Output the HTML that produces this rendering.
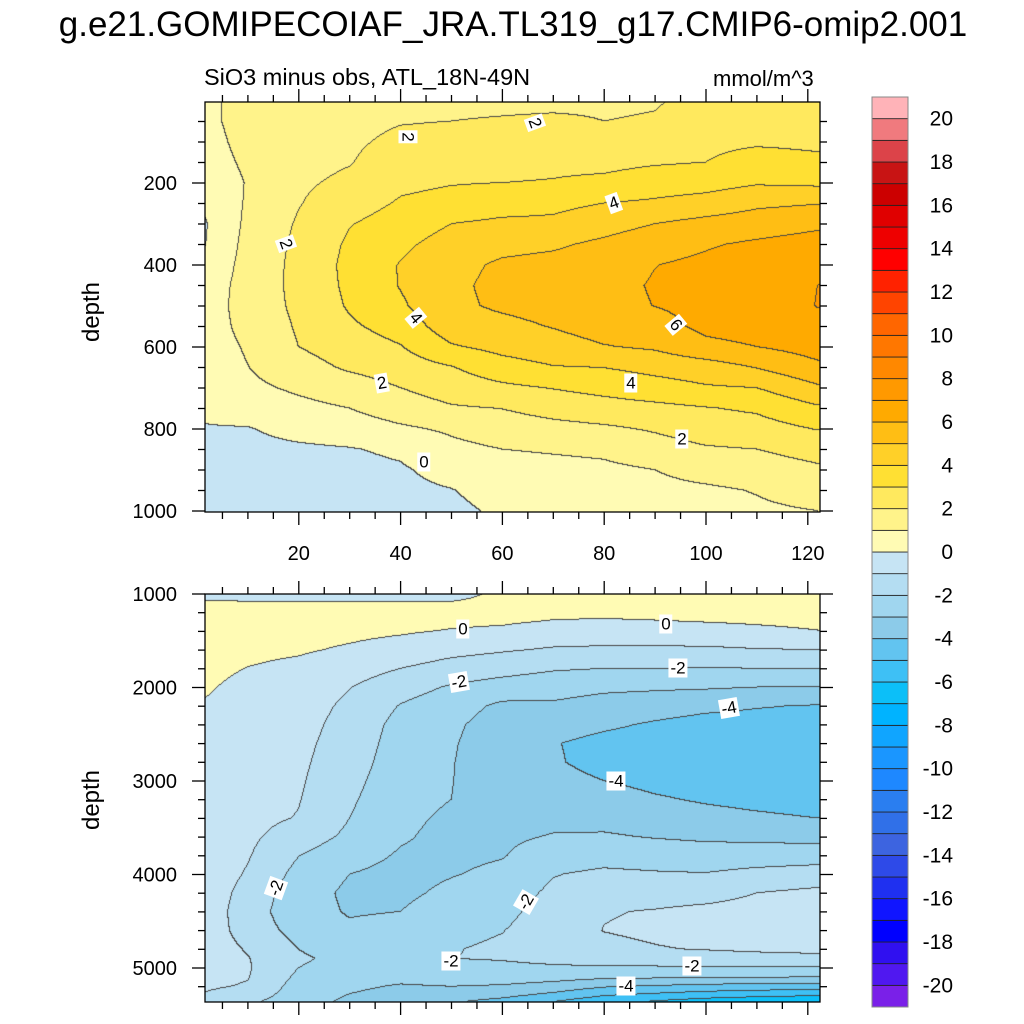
<!DOCTYPE html>
<html><head><meta charset="utf-8">
<style>
html,body{margin:0;padding:0;background:#fff;}
body{width:1024px;height:1024px;position:relative;overflow:hidden;font-family:"Liberation Sans",Arial,sans-serif;color:#000;}
.abs{position:absolute;}
canvas{position:absolute;}
.lbl{position:absolute;background:#fff;font-size:17px;line-height:17px;padding:1px 2px;transform:translate(-50%,-50%);}
</style></head>
<body>
<div class="abs" style="left:0;width:1026px;top:5px;text-align:center;font-size:35px;white-space:nowrap;">g.e21.GOMIPECOIAF_JRA.TL319_g17.CMIP6-omip2.001</div>
<div class="abs" style="left:204px;top:64px;font-size:23.5px;white-space:nowrap;">SiO3 minus obs, ATL_18N-49N</div>
<div class="abs" style="left:713px;top:66px;font-size:22px;white-space:nowrap;">mmol/m^3</div>
<div class="abs" style="left:92px;top:312px;font-size:24px;transform:translate(-50%,-50%) rotate(-90deg);">depth</div>
<div class="abs" style="left:92px;top:800px;font-size:24px;transform:translate(-50%,-50%) rotate(-90deg);">depth</div>
<canvas id="topC" width="615" height="410" style="left:205px;top:102px;"></canvas>
<canvas id="botC" width="615" height="408" style="left:205px;top:594px;"></canvas>
<svg id="axes" class="abs" width="1024" height="1024" style="left:0;top:0;"></svg>
<div id="labels"></div>
<script>
// ---------- data ----------
const xGrid = [1.5,10,20,30,40,50,60,70,80,90,100,110,122];
const topDepth = [0,50,100,150,200,250,300,350,400,450,500,550,600,650,700,750,800,850,900,950,1000];
const topCol0 = [0.8,0.8,0.7,0.6,0.4,0.15,-0.1,-0.05,0.2,0.4,0.5,0.5,0.5,0.45,0.35,0.15,-0.05,-0.3,-0.4,-0.5,-0.5];
const topCol1 = [1.3,1.3,1.25,1.15,1.05,1.1,1.2,1.3,1.35,1.4,1.4,1.3,1.1,0.98,0.8,0.45,-0.05,-0.25,-0.4,-0.5,-0.55];
const topCol2 = [1.5,1.55,1.6,1.7,1.85,1.95,2.1,2.2,2.25,2.25,2.2,2.1,2.0,1.6,1.15,0.75,0.3,-0.15,-0.35,-0.45,-0.5];
const topCol3 = [1.7,1.75,1.85,1.95,2.2,2.55,2.95,3.15,3.25,3.2,3.1,2.85,2.5,2.15,1.5,1.0,0.5,-0.05,-0.25,-0.4,-0.45];
const topCol4 = [1.8,1.95,2.2,2.5,2.8,3.1,3.45,3.8,4.05,4.05,3.85,3.4,2.95,2.5,2.0,1.5,0.85,0.15,-0.1,-0.2,-0.35];
const topCol5 = [1.85,2.0,2.3,2.65,2.95,3.3,4.0,4.4,4.7,4.8,4.8,4.55,3.9,2.95,2.45,1.9,1.15,0.75,0.3,-0.03,-0.2];
const topCol6 = [1.85,2.05,2.4,2.7,3.0,3.55,4.2,4.7,5.15,5.25,5.15,4.75,4.3,3.6,2.8,2.02,1.5,1.0,0.6,0.35,0.15];
const topCol7 = [1.85,2.1,2.5,2.8,3.05,3.75,4.2,4.85,5.3,5.4,5.35,5.05,4.6,3.95,3.05,2.35,1.7,1.1,0.7,0.45,0.3];
const topCol8 = [1.9,2.0,2.4,2.75,3.2,4.0,4.6,5.2,5.55,5.7,5.65,5.4,4.95,4.02,3.3,2.6,1.85,1.2,0.8,0.55,0.4];
const topCol9 = [1.95,2.05,2.5,2.9,3.5,4.15,5.0,5.6,5.98,6.08,6.02,5.6,5.15,4.3,3.6,2.75,2.1,1.6,1.0,0.75,0.55];
const topCol10 = [2.15,2.4,2.75,3.0,3.6,4.4,5.3,5.9,6.2,6.35,6.3,6.25,5.75,4.55,3.9,2.95,2.45,1.9,1.35,0.85,0.6];
const topCol11 = [2.2,2.5,2.85,3.45,3.9,4.8,5.5,6.15,6.5,6.65,6.6,6.4,6.0,5.05,4.0,3.15,2.6,2.0,1.55,1.05,0.85];
const topCol12 = [2.3,2.55,2.8,3.2,3.8,4.95,5.8,6.4,6.8,7.0,7.02,6.85,6.4,5.8,4.85,3.85,3.05,2.35,1.85,1.4,1.0];

const botDepth = [1000,1100,1200,1300,1400,1600,1800,2000,2200,2400,2600,2800,3000,3200,3400,3600,3800,4000,4200,4400,4600,4800,4900,5000,5100,5200,5300,5363];
const botCol0 = [-0.5,0.2,0.5,0.5,0.45,0.35,0.2,0.08,-0.05,-0.15,-0.2,-0.25,-0.25,-0.3,-0.3,-0.3,-0.3,-0.3,-0.3,-0.3,-0.3,-0.3,-0.35,-0.4,-0.6,-0.85,-1.1,-1.3];
const botCol1 = [-0.5,0.1,0.4,0.4,0.35,0.2,-0.02,-0.2,-0.3,-0.4,-0.45,-0.5,-0.55,-0.6,-0.7,-0.8,-0.92,-1.1,-1.4,-1.6,-1.5,-1.1,-0.95,-0.9,-0.95,-1.1,-1.5,-1.8];
const botCol2 = [-0.5,0.1,0.4,0.35,0.25,0.1,-0.2,-0.4,-0.55,-0.65,-0.75,-0.82,-0.88,-0.95,-1.05,-1.5,-1.98,-2.3,-2.5,-2.5,-2.3,-2.0,-1.9,-2.0,-2.2,-2.4,-2.5,-2.6];
const botCol3 = [-0.5,0.1,0.4,0.3,0.2,-0.1,-0.55,-0.97,-1.2,-1.35,-1.45,-1.55,-1.7,-1.85,-2.0,-2.2,-2.6,-3.0,-3.2,-3.1,-2.8,-2.4,-2.2,-2.3,-2.5,-2.8,-3.05,-3.2];
const botCol4 = [-0.5,0.1,0.35,0.25,0.1,-0.35,-1.0,-1.6,-2.05,-2.3,-2.4,-2.5,-2.6,-2.7,-2.8,-2.9,-3.1,-3.3,-3.2,-3.0,-2.6,-2.1,-2.0,-2.3,-2.7,-3.1,-3.4,-3.7];
const botCol5 = [-0.5,0.1,0.3,0.15,-0.05,-0.7,-1.4,-2.1,-2.55,-2.8,-2.9,-2.95,-2.97,-3.0,-3.15,-3.25,-3.2,-3.05,-2.8,-2.5,-2.25,-2.05,-2.0,-2.2,-2.5,-3.0,-3.5,-3.9];
const botCol6 = [0.3,0.4,0.25,0.1,-0.15,-0.9,-1.65,-2.4,-3.2,-3.5,-3.6,-3.6,-3.55,-3.45,-3.3,-3.15,-3.05,-2.8,-2.5,-2.25,-2.03,-1.85,-1.95,-2.15,-2.5,-3.1,-3.8,-4.3];
const botCol7 = [0.7,0.45,0.2,-0.05,-0.4,-1.1,-1.9,-2.6,-3.15,-3.6,-3.95,-3.9,-3.7,-3.45,-3.2,-2.95,-2.55,-2.05,-1.8,-1.6,-1.5,-1.6,-1.8,-2.1,-2.6,-3.4,-4.3,-5.0];
const botCol8 = [0.7,0.5,0.2,-0.1,-0.45,-1.15,-2.0,-2.8,-3.4,-3.85,-4.25,-4.3,-4.0,-3.6,-3.3,-2.9,-2.4,-1.8,-1.4,-1.05,-0.98,-1.2,-1.6,-2.1,-2.8,-3.9,-5.0,-5.7];
const botCol9 = [0.65,0.5,0.25,-0.05,-0.4,-1.15,-2.0,-2.85,-3.6,-4.1,-4.4,-4.45,-4.25,-3.9,-3.5,-3.05,-2.5,-1.9,-1.35,-0.95,-0.85,-1.05,-1.5,-2.1,-2.85,-4.1,-5.3,-6.1];
const botCol10 = [0.6,0.5,0.3,0.02,-0.35,-1.15,-2.05,-2.9,-3.8,-4.3,-4.5,-4.5,-4.4,-4.1,-3.7,-3.15,-2.6,-1.95,-1.3,-0.8,-0.7,-0.95,-1.4,-2.05,-2.9,-4.3,-5.6,-6.5];
const botCol11 = [0.55,0.5,0.35,0.1,-0.2,-1.05,-2.0,-3.0,-3.95,-4.3,-4.5,-4.55,-4.5,-4.25,-3.85,-3.2,-2.55,-1.7,-1.0,-0.7,-0.65,-0.85,-1.3,-2.05,-2.95,-4.4,-5.8,-6.8];
const botCol12 = [0.5,0.5,0.4,0.2,-0.02,-1.0,-2.0,-3.05,-4.05,-4.3,-4.5,-4.6,-4.6,-4.4,-4.0,-3.3,-2.5,-1.5,-0.8,-0.6,-0.6,-0.8,-1.2,-2.1,-3.0,-4.5,-6.0,-7.0];

const topValues = [topCol0,topCol1,topCol2,topCol3,topCol4,topCol5,topCol6,topCol7,topCol8,topCol9,topCol10,topCol11,topCol12];
const botValues = [botCol0,botCol1,botCol2,botCol3,botCol4,botCol5,botCol6,botCol7,botCol8,botCol9,botCol10,botCol11,botCol12];

const xTicks = [20,40,60,80,100,120];
const topYTicks = [200,400,600,800,1000];
const botYTicks = [1000,2000,3000,4000,5000];
const cbLabels = [20,18,16,14,12,10,8,6,4,2,0,-2,-4,-6,-8,-10,-12,-14,-16,-18,-20];
const palette = ['#7a20e8','#5018f0','#3010f0','#0000ff','#1015ff','#1f30f0','#2e4ae8','#3d64e0','#3070e8','#2a7ef0','#1e88ff','#1a96ff','#10a5ff','#00b3ff','#0cbff8','#3ec0f5','#62c4f0','#8ccbe9','#a0d6ef','#b4ddf2','#c6e4f4','#fffbb4','#fff38a','#ffe95e','#ffe033','#ffd028','#ffbe14','#ffaa00','#ff9900','#ff8800','#ff7700','#ff6600','#ff4400','#ff2200','#ff0000','#ee0000','#e00000','#cc0000','#c81414','#dc4349','#f07a7e','#ffb3b8'];

const topLabels = [["2",408,137,90],["2",535,123,70],["2",286,244,70],["4",614,203,-20],["4",416,318,50],["6",676,325,50],["2",382,383,-10],["4",631,383,0],["2",682,439,0],["0",424,462,0]];
const botLabels = [["0",463,629,0],["0",666,624,0],["-2",459,682,-10],["-2",678,668,0],["-4",729,708,-10],["-4",616,781,0],["-2",276,888,-70],["-2",526,902,-60],["-2",451,961,0],["-2",692,966,0],["-4",626,986,0]];

// ---------- geometry ----------
const X0=197, XS=5.09;
const px = x => X0 + XS*x;
const PL=205, PR=820;
const topY = d => 101 + d*0.41;
const botY = d => 594 + (d-1000)*0.0935;

function rgb(h){return [parseInt(h.substr(1,2),16),parseInt(h.substr(3,2),16),parseInt(h.substr(5,2),16)];}
const palRGB = palette.map(rgb);
function band(v){let k=Math.floor(v)+21; return Math.max(0,Math.min(41,k));}
function locate(arr,v){let i=0; while(i<arr.length-2 && v>arr[i+1]) i++; let t=(v-arr[i])/(arr[i+1]-arr[i]); return [i,Math.max(0,Math.min(1,t))];}
function sample(vals,depths,x,d){
  const [i,tx]=locate(xGrid,x), [j,ty]=locate(depths,d);
  const a=vals[i][j],b=vals[i+1][j],c=vals[i][j+1],e=vals[i+1][j+1];
  return (a*(1-tx)+b*tx)*(1-ty)+(c*(1-tx)+e*tx)*ty;
}
function drawPanel(id,vals,depths,top,yinv){
  const cv=document.getElementById(id), ctx=cv.getContext('2d');
  const W=cv.width,H=cv.height, img=ctx.createImageData(W,H);
  const idx=new Int16Array(W*H);
  for(let yy=0;yy<H;yy++){const d=yinv(top+yy+0.5);
    for(let xx=0;xx<W;xx++){const x=(PL+xx+0.5-X0)/XS;
      idx[yy*W+xx]=band(sample(vals,depths,x,d));}}
  for(let p=0;p<W*H;p++){
    let c=palRGB[idx[p]];
    const xx=p%W, yy=(p-xx)/W;
    let line=false;
    if(xx<W-1 && idx[p+1]!==idx[p]) line=true;
    if(yy<H-1 && idx[p+W]!==idx[p]) line=true;
    if(line) c=[70,70,70];
    img.data[p*4]=c[0];img.data[p*4+1]=c[1];img.data[p*4+2]=c[2];img.data[p*4+3]=255;}
  ctx.putImageData(img,0,0);
}
drawPanel('topC',topValues,topDepth,102,y=>(y-101)/0.41);
drawPanel('botC',botValues,botDepth,594,y=>1000+(y-594)/0.0935);

// ---------- axes ----------
const svg=document.getElementById('axes'), NS='http://www.w3.org/2000/svg';
function el(tag,attrs){const e=document.createElementNS(NS,tag);for(const k in attrs)e.setAttribute(k,attrs[k]);svg.appendChild(e);return e;}
function line(x1,y1,x2,y2,name){const l=el('line',{x1,y1,x2,y2,stroke:'#000','stroke-width':1.3});
  
  return l;}
function text(t,x,y,anchor,size,name){const e=el('text',{x,y,'text-anchor':anchor,'font-size':size,'font-family':'Liberation Sans, Arial, sans-serif'});e.textContent=t;
  
  return e;}
function panelAxes(top,bot,yfun,yTicks,minorStep,dmin,dmax,showX,tag){
  const fr=el('rect',{x:PL,y:top,width:PR-PL,height:bot-top,fill:'none',stroke:'#000','stroke-width':1.3});
  
  
  for(let x=5;x<=122;x+=5){const maj=x%20===0, L=maj?13:7, X=px(x);
    line(X,bot,X,bot+L,tag+'-x-tick'); line(X,top,X,top-L,tag+'-x-tick-top');}
  for(let d=Math.ceil(dmin/minorStep)*minorStep; d<=dmax; d+=minorStep){const Y=yfun(d); if(Y<top-0.5||Y>bot+0.5)continue;
    const maj=yTicks.indexOf(d)>=0, L=maj?13:7;
    line(PL-L,Y,PL,Y,tag+'-y-tick'); line(PR,Y,PR+L,Y,tag+'-y-tick-right');}
  yTicks.forEach(d=>text(String(d),177,yfun(d)+7,'end',20,tag+'-y-tick-label'));
  if(showX) xTicks.forEach(x=>text(String(x),px(x),560,'middle',20,'x-tick-label'));
}
panelAxes(102,512,topY,topYTicks,50,0,1000,true,'top');
panelAxes(594,1002,botY,botYTicks,200,1000,5363,false,'bottom');

// ---------- colorbar ----------
const CB0=97, CBH=910/42;
for(let k=0;k<42;k++){const y=CB0+(41-k)*CBH;
  const r=el('rect',{x:872,y:y,width:36,height:CBH,fill:palette[k],stroke:'#222','stroke-width':0.8});
  
  }
const cbf=el('rect',{x:872,y:CB0,width:36,height:910,fill:'none',stroke:'#888','stroke-width':1});


cbLabels.forEach(L=>{const y=CB0+(21-L)*CBH; text(String(L),953,y+7,'end',21,'colorbar-label');});

// ---------- contour labels ----------
const lw=document.getElementById('labels');
topLabels.concat(botLabels).forEach(a=>{const d=document.createElement('div');d.className='lbl';d.textContent=a[0];
  d.style.left=a[1]+'px';d.style.top=a[2]+'px';d.style.transform='translate(-50%,-50%) rotate('+a[3]+'deg)';
  
  
  lw.appendChild(d);});
</script>
</body></html>
